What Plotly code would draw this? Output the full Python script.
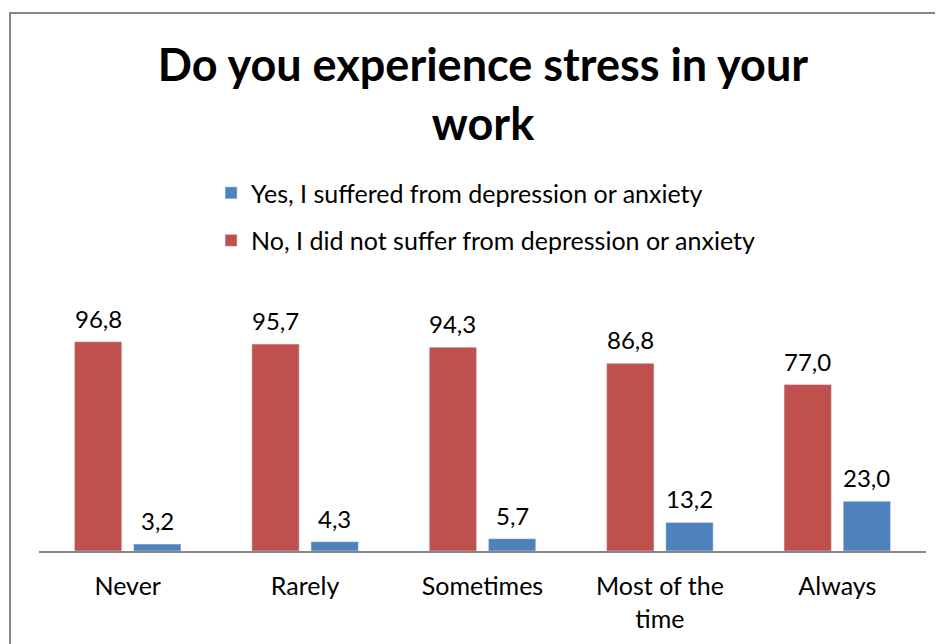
import plotly.graph_objects as go

# ── Data ──────────────────────────────────────────────────────────────────────
categories = ["Never", "Rarely", "Sometimes", "Most of the<br>time", "Always"]
no_values = [96.8, 95.7, 94.3, 86.8, 77.0]
yes_values = [3.2, 4.3, 5.7, 13.2, 23.0]

_RED = "#C0504D"
_BLUE = "#4F81BD"
_GREY = "#868686"
_FONT = "Lato, Carlito, Calibri, sans-serif"

# the page body adds an 8px offset, so the figure is 8px smaller each way
W, H = 935, 636
M_L, M_R, M_T, M_B = 31, 17, 316, 93
BARGAP, GROUPGAP = 0.333, 0.2

fig = go.Figure()

fig.add_trace(go.Bar(
    x=categories, y=no_values,
    name="No, I did not suffer from depression or anxiety",
    marker=dict(color=_RED), legendgroup="no", legendrank=2,
))
fig.add_trace(go.Bar(
    x=categories, y=yes_values,
    name="Yes, I suffered from depression or anxiety",
    marker=dict(color=_BLUE), legendgroup="yes", legendrank=1,
))

# ── Data labels (above each bar, Excel style gap) ────────────────────────────
cat_px = (W - M_L - M_R) / len(categories)
slot_px = cat_px * (1 - BARGAP) / 2
for series, sign in ((no_values, -1), (yes_values, 1)):
    for cat, val in zip(categories, series):
        fig.add_annotation(
            x=cat, y=val, text=f"{val:.1f}".replace(".", ","),
            showarrow=False, yanchor="bottom", xanchor="center",
            xshift=sign * slot_px / 2, yshift=7,
            font=dict(size=24, family=_FONT, color="#000000"),
        )

# chart-area border (left and top visible, rest cut off)
fig.add_shape(
    type="rect", xref="paper", yref="paper",
    x0=-29 / (W - M_L - M_R), x1=1.2, y0=-1.0,
    y1=1 + (M_T - 5) / (H - M_T - M_B),
    line=dict(color=_GREY, width=2), fillcolor="rgba(0,0,0,0)",
    layer="below",
)

fig.update_layout(
    width=W, height=H,
    margin=dict(l=M_L, r=M_R, t=M_T, b=M_B),
    paper_bgcolor="white", plot_bgcolor="white",
    font=dict(family=_FONT, color="#000000"),
    separators=",.",
    barmode="group", bargap=BARGAP, bargroupgap=GROUPGAP,
    title=dict(
        text="<b>Do you experience stress in your<br>work</b>",
        x=0.508, xanchor="center", y=0.885, yanchor="middle",
        font=dict(size=45, family=_FONT, color="#000000"),
    ),
    legend=dict(
        orientation="v", traceorder="grouped",
        x=0.194, xanchor="left", y=1.678, yanchor="top",
        font=dict(size=25, family=_FONT),
        tracegroupgap=12, bgcolor="rgba(0,0,0,0)",
    ),
    showlegend=True,
)

fig.update_xaxes(
    showline=True, linecolor=_GREY, linewidth=2,
    showgrid=False, ticks="", tickfont=dict(size=25, family=_FONT),
    ticklabelstandoff=12,
)
fig.update_yaxes(
    range=[0, 105], visible=False, showgrid=False, zeroline=False,
)

fig.write_html("out.html")
